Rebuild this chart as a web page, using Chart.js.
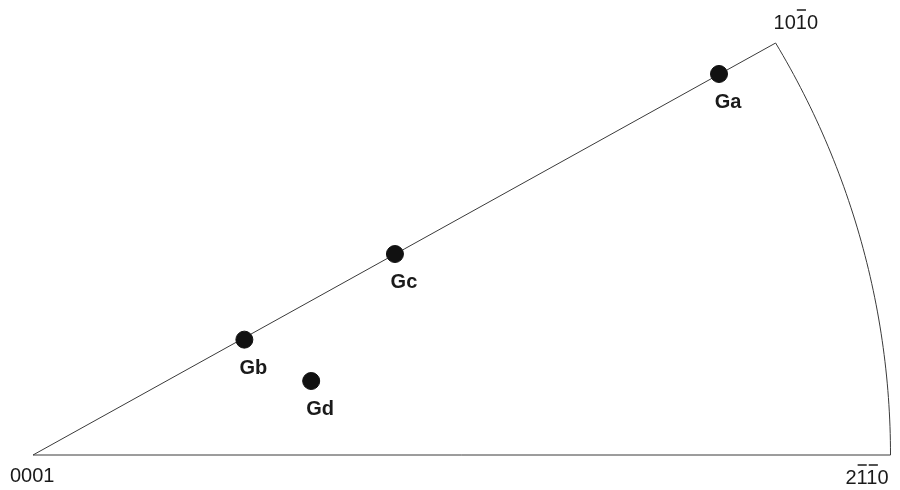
<!DOCTYPE html>
<html>
<head>
<meta charset="utf-8">
<script src="https://cdn.jsdelivr.net/npm/chart.js@4/dist/chart.umd.min.js"></script>
<style>
  body { margin: 0; background: #fff; }
  canvas { display: block; }
</style>
</head>
<body>
<canvas id="ipf_chart" width="900" height="490"></canvas>
<script>
// grain orientations in the 0001 - 10-10 - 2-1-10 triangle
var grain_names = ['Ga', 'Gb', 'Gc', 'Gd'];
var grain_x = [0.800, 0.2465, 0.4221, 0.3244];
var grain_y = [0.4624, 0.140, 0.2439, 0.0898];

// triangle corners (x, y) and their labels
var corner_labels = ['0001', '2110', '1010'];
var corner_x = [0, 1, 0.866];
var corner_y = [0, 0, 0.5];
// which characters carry an overbar
var corner_bars = [[], [1, 2], [2]];

var points = [];
for (let i = 0; i < grain_names.length; i++) {
    points.push({ x: grain_x[i], y: grain_y[i] });
}

var frame_plugin = {
    id: 'frame',
    beforeDatasetsDraw: function (chart) {
        let ctx = chart.ctx;
        let sx = chart.scales.x;
        let sy = chart.scales.y;
        ctx.save();
        ctx.strokeStyle = '#3a3a3a';
        ctx.lineWidth = 1;
        ctx.beginPath();
        ctx.moveTo(sx.getPixelForValue(corner_x[2]), sy.getPixelForValue(corner_y[2]));
        ctx.lineTo(sx.getPixelForValue(corner_x[0]), sy.getPixelForValue(corner_y[0]));
        ctx.lineTo(sx.getPixelForValue(corner_x[1]), sy.getPixelForValue(corner_y[1]));
        // outer arc of the triangle, unit circle from 0 to 30 degrees
        for (let a = 0; a <= 30; a += 0.5) {
            let r = a * Math.PI / 180;
            ctx.lineTo(sx.getPixelForValue(Math.cos(r)), sy.getPixelForValue(Math.sin(r)));
        }
        ctx.stroke();
        ctx.restore();
    },
    afterDatasetsDraw: function (chart) {
        let ctx = chart.ctx;
        let sx = chart.scales.x;
        let sy = chart.scales.y;
        ctx.save();
        ctx.fillStyle = '#1a1a1a';
        ctx.textBaseline = 'alphabetic';

        // grain labels
        ctx.font = 'bold 20px "Liberation Sans", Arial, sans-serif';
        ctx.textAlign = 'center';
        for (let i = 0; i < grain_names.length; i++) {
            let px = sx.getPixelForValue(grain_x[i]);
            let py = sy.getPixelForValue(grain_y[i]);
            ctx.fillText(grain_names[i], px + 9, py + 34);
        }

        // corner labels
        ctx.font = '20px "Liberation Sans", Arial, sans-serif';
        ctx.textAlign = 'left';
        let offsets = [[-23, 27], [-45, 29], [-2, -14]];
        ctx.strokeStyle = '#1a1a1a';
        ctx.lineWidth = 1.5;
        for (let i = 0; i < corner_labels.length; i++) {
            let txt = corner_labels[i];
            let x0 = sx.getPixelForValue(corner_x[i]) + offsets[i][0];
            let y0 = sy.getPixelForValue(corner_y[i]) + offsets[i][1];
            ctx.fillText(txt, x0, y0);
            let bars = corner_bars[i];
            for (let j = 0; j < bars.length; j++) {
                let k = bars[j];
                let left = x0 + ctx.measureText(txt.substring(0, k)).width;
                let w = ctx.measureText(txt.charAt(k)).width;
                ctx.beginPath();
                ctx.moveTo(left + 1, y0 - 19);
                ctx.lineTo(left + w - 1, y0 - 19);
                ctx.stroke();
            }
        }
        ctx.restore();
    }
};

var ipf_chart = new Chart(document.getElementById('ipf_chart').getContext('2d'), {
    type: 'scatter',
    data: {
        datasets: [{
            data: points,
            backgroundColor: '#111111',
            borderColor: '#111111',
            pointRadius: 8.5,
            pointHoverRadius: 8.5
        }]
    },
    options: {
        responsive: false,
        animation: false,
        layout: {
            padding: { left: 33, right: 7, top: 43, bottom: 35 }
        },
        plugins: {
            legend: { display: false },
            tooltip: { enabled: false }
        },
        scales: {
            x: { type: 'linear', min: 0, max: 1, display: false },
            y: { type: 'linear', min: 0, max: 0.5, display: false }
        }
    },
    plugins: [frame_plugin]
});
</script>
</body>
</html>
